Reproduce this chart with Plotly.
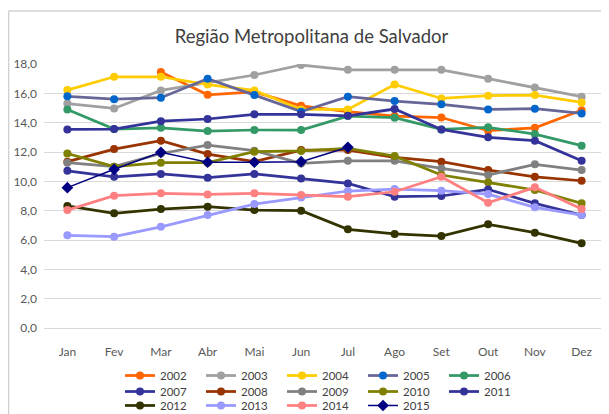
import plotly.graph_objects as go

months = ["Jan", "Fev", "Mar", "Abr", "Mai", "Jun", "Jul", "Ago", "Set", "Out", "Nov", "Dez"]

y2002 = [None, None, 17.45, 15.9, 16.1, 15.15, 14.75, 14.45, 14.35, 13.45, 13.65, 14.85]
y2003 = [15.3, 14.97, 16.2, 16.7, 17.25, 17.93, 17.6, 17.6, 17.6, 17.0, 16.4, 15.77]
y2004 = [16.22, 17.13, 17.13, 16.6, 16.2, 14.9, 14.9, 16.6, 15.65, 15.84, 15.88, 15.38]
y2005 = [15.8, 15.6, 15.7, 17.0, 15.88, 14.75, 15.77, 15.47, 15.25, 14.9, 14.95, 14.63]
y2006 = [14.9, 13.56, 13.65, 13.43, 13.5, 13.5, 14.45, 14.34, 13.54, 13.68, 13.22, 12.43]
y2007 = [13.54, 13.56, 14.1, 14.25, 14.57, 14.57, 14.47, 14.93, 13.54, 13.0, 12.77, 11.4]
y2008 = [11.34, 12.2, 12.77, 11.86, 11.34, 12.13, 12.13, 11.63, 11.34, 10.77, 10.31, 10.04]
y2009 = [11.27, 11.0, 11.9, 12.47, 12.09, 11.22, 11.4, 11.4, 10.88, 10.43, 11.16, 10.77]
y2010 = [11.9, 11.0, 11.27, 11.27, 12.02, 12.07, 12.25, 11.72, 10.43, 9.93, 9.41, 8.5]
y2011 = [10.72, 10.31, 10.5, 10.25, 10.5, 10.2, 9.86, 8.95, 9.0, 9.45, 8.5, 7.7]
y2012 = [8.32, 7.82, 8.11, 8.27, 8.04, 8.0, 6.73, 6.41, 6.27, 7.07, 6.5, 5.77]
y2013 = [6.32, 6.23, 6.9, 7.7, 8.45, 8.89, 9.34, 9.47, 9.36, 9.13, 8.23, 7.7]
y2014 = [8.04, 9.02, 9.18, 9.11, 9.18, 9.07, 8.95, 9.29, 10.31, 8.54, 9.59, 8.11]
y2015 = [9.57, 10.82, 11.98, 11.3, 11.3, 11.34, 12.32]

series = [
    ("2002", y2002, "#FF6600", "#FF6600", "circle", 2.75, "legend"),
    ("2003", y2003, "#A0A0A0", "#A0A0A0", "circle", 2.75, "legend"),
    ("2004", y2004, "#FFCC00", "#FFCC00", "circle", 2.75, "legend"),
    ("2005", y2005, "#666699", "#0066CC", "circle", 2.75, "legend"),
    ("2006", y2006, "#339966", "#339966", "circle", 2.75, "legend"),
    ("2007", y2007, "#333399", "#333399", "circle", 2.75, "legend2"),
    ("2008", y2008, "#993300", "#993300", "circle", 2.75, "legend2"),
    ("2009", y2009, "#808080", "#808080", "circle", 2.75, "legend2"),
    ("2010", y2010, "#808000", "#808000", "circle", 2.75, "legend2"),
    ("2011", y2011, "#333399", "#333399", "circle", 2.75, "legend2"),
    ("2012", y2012, "#333300", "#333300", "circle", 2.75, "legend3"),
    ("2013", y2013, "#9999FF", "#9999FF", "circle", 2.75, "legend3"),
    ("2014", y2014, "#FF8080", "#FF8080", "circle", 2.75, "legend3"),
    ("2015", y2015, "#000080", "#000080", "diamond", 1.5, "legend3"),
]

fig = go.Figure()
for name, vals, lc, mc, sym, lw, lg in series:
    fig.add_trace(go.Scatter(
        x=months[:len(vals)], y=vals, name=name, mode="lines+markers",
        line=dict(color=lc, width=lw),
        marker=dict(color=mc, symbol=sym, size=9 if sym == "diamond" else 8),
        connectgaps=False, legend=lg,
    ))

# the page body adds an 8px offset, so the figure is 601x406
W, H = 601, 406

def leg(ytop):
    return dict(orientation="h", xref="container", yref="container",
                x=0.1864, y=ytop, xanchor="left", yanchor="top",
                entrywidth=36, entrywidthmode="pixels",
                font=dict(size=11.5, color="#404040"), tracegroupgap=0,
                itemwidth=30, bgcolor="rgba(0,0,0,0)")

fig.update_layout(
    width=W, height=H,
    margin=dict(l=36, r=3.6, t=56, b=86, autoexpand=False),
    paper_bgcolor="white", plot_bgcolor="white",
    font=dict(family="Lato, Open Sans, sans-serif", color="#595959", size=12),
    title=dict(text="Região Metropolitana de Salvador", x=0.505, xanchor="center",
               y=0.9286, yanchor="middle",
               font=dict(size=18.5, color="#404040")),
    xaxis=dict(type="category", range=[-0.5, 11.5], showgrid=False,
               showline=False, ticks="", tickfont=dict(size=12, color="#595959"),
               ticklabelstandoff=15),
    yaxis=dict(range=[0, 18], dtick=2, tickformat=".1f",
               showgrid=True, gridcolor="#D9D9D9", gridwidth=1, zeroline=True,
               zerolinecolor="#D9D9D9", zerolinewidth=1,
               tickfont=dict(size=12, color="#595959"), ticks="", ticklabelstandoff=6),
    separators=",.",
    legend=leg(0.1305),
    legend2=leg(0.0911),
    legend3=leg(0.0567),
    showlegend=True,
)

# chart border (partially visible as in reference)
fig.add_shape(type="line", xref="paper", yref="paper",
              x0=-0.0632, x1=1.2, y0=1.2008, y1=1.2008, line=dict(color="#D0D0D0", width=1.5))
fig.add_shape(type="line", xref="paper", yref="paper",
              x0=-0.0632, x1=-0.0632, y0=1.2008, y1=-0.4, line=dict(color="#D0D0D0", width=1.5))

fig.write_html("out.html")
